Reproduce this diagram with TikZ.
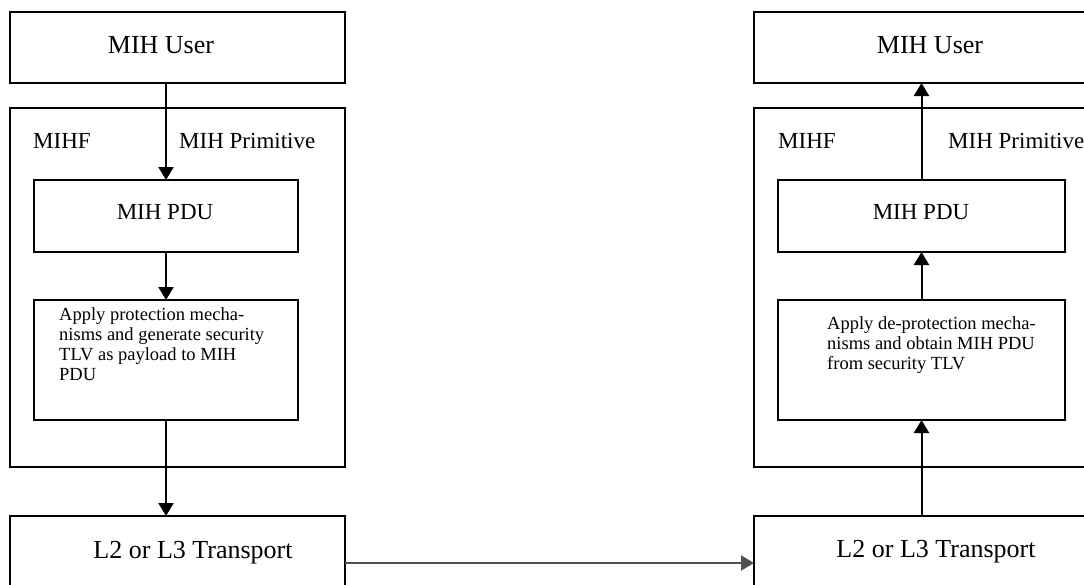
\documentclass[tikz,border=0pt]{standalone}
\usepackage{fontspec}
\setmainfont{Liberation Serif}
\usetikzlibrary{arrows.meta}
\definecolor{linkgray}{HTML}{505050}
\begin{document}
\begin{tikzpicture}[x=1pt,y=-1pt,
  box/.style={draw, line width=2.7pt, rectangle, inner sep=0pt, outer sep=0pt, anchor=north west},
  bigtext/.style={font=\fontsize{26}{30}\selectfont, inner sep=0pt},
  midtext/.style={font=\fontsize{23}{27}\selectfont, inner sep=0pt},
  smalltext/.style={font=\fontsize{18.5}{20}\selectfont, inner sep=0pt, align=left},
  flow/.style={draw, line width=2pt, -{Triangle[length=13pt,width=15pt]}},
  link/.style={draw=linkgray, line width=2pt, -{Triangle[length=13pt,width=15pt]}, color=linkgray}
]
\useasboundingbox (0,0) rectangle (1084,584);

% sending side
\node[box, minimum width=335pt, minimum height=71pt]  (userL)  at (10,12)  {};
\node[box, minimum width=335pt, minimum height=359pt] (mihfL)  at (10,108) {};
\node[box, minimum width=264pt, minimum height=72pt]  (pduL)   at (34,180) {};
\node[box, minimum width=264pt, minimum height=120pt] (protL)  at (34,300) {};
\node[box, minimum width=335pt, minimum height=94pt]  (transL) at (10,516) {};

% receiving side
\node[box, minimum width=380pt, minimum height=71pt]  (userR)  at (754,12)  {};
\node[box, minimum width=380pt, minimum height=359pt] (mihfR)  at (754,108) {};
\node[box, minimum width=287pt, minimum height=72pt]  (pduR)   at (778,180) {};
\node[box, minimum width=287pt, minimum height=120pt] (protR)  at (778,300) {};
\node[box, minimum width=380pt, minimum height=94pt]  (transR) at (754,516) {};

% labels, sending side (multi-line text is placed by its last baseline)
\node[bigtext, anchor=base] (tUserL) at (161,53) {MIH User};
\node[midtext, anchor=base west] (tMihfL) at (33,148) {MIHF};
\node[midtext, anchor=base west] (tPrimL) at (179,148) {MIH Primitive};
\node[midtext, anchor=base] (tPduL) at (165,219) {MIH PDU};
\node[smalltext, anchor=base west] (tProtL) at (59,380)
  {Apply protection mecha-\\nisms and generate security\\TLV as payload to MIH\\PDU};
\node[bigtext, anchor=base] (tTransL) at (193,558) {L2 or L3 Transport};

% labels, receiving side
\node[bigtext, anchor=base] (tUserR) at (930,53) {MIH User};
\node[midtext, anchor=base west] (tMihfR) at (778,148) {MIHF};
\node[midtext, anchor=base west] (tPrimR) at (948,148) {MIH Primitive};
\node[midtext, anchor=base] (tPduR) at (921,219) {MIH PDU};
\node[smalltext, anchor=base west] (tProtR) at (827,369)
  {Apply de-protection mecha-\\nisms and obtain MIH PDU\\from security TLV};
\node[bigtext, anchor=base] (tTransR) at (936,557) {L2 or L3 Transport};

% downward path on the sending side
\draw[flow] (pduL.north |- userL.south) -- (pduL.north);
\draw[flow] (pduL.south) -- (protL.north);
\draw[flow] (protL.south) -- (protL.south |- transL.north);

% upward path on the receiving side
\draw[flow] (protR.south |- transR.north) -- (protR.south);
\draw[flow] (protR.north) -- (pduR.south);
\draw[flow] (pduR.north) -- (pduR.north |- userR.south);

% transport link between the two sides
\draw[link] (transL.east) -- (transR.west);
\end{tikzpicture}
\end{document}
